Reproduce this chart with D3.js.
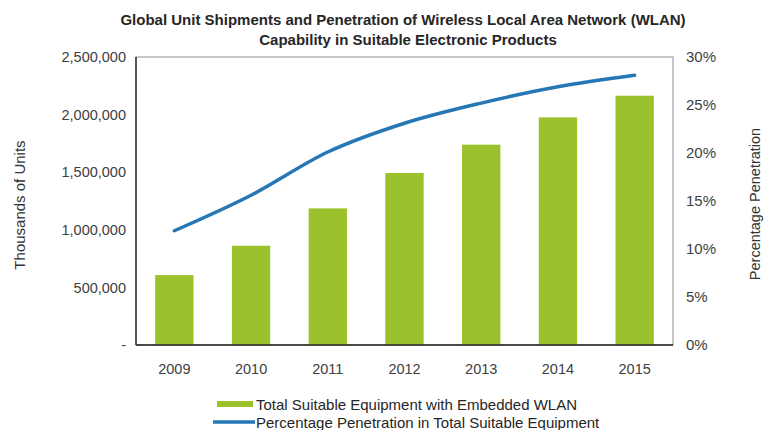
<!DOCTYPE html>
<html>
<head>
<meta charset="utf-8">
<script src="https://cdn.jsdelivr.net/npm/d3@7"></script>
<style>
  body { margin: 0; background: #fff; }
  svg text { font-family: "Liberation Sans", Arial, sans-serif; }
</style>
</head>
<body>
<svg class="d3SVG"></svg>
<script>
const years = ['2009', '2010', '2011', '2012', '2013', '2014', '2015']
const units = [607000, 862000, 1186000, 1493000, 1739000, 1976000, 2164000]
const penetration = [0.119, 0.156, 0.201, 0.231, 0.252, 0.269, 0.281]
const leftTicks = [0, 500000, 1000000, 1500000, 2000000, 2500000]
const rightTicks = [0, 0.05, 0.10, 0.15, 0.20, 0.25, 0.30]

const width = 765
const height = 430
const plotLeft = 136, plotRight = 673, plotTop = 57, plotBottom = 345

var svg = d3.select('.d3SVG')
  .attr('width', width)
  .attr('height', height)

var xScale = d3.scaleBand()
  .domain(years)
  .range([plotLeft, plotRight])
  .paddingInner(0.5)
  .paddingOuter(0.25)
var yScale = d3.scaleLinear()
  .domain([0, 2500000])
  .range([plotBottom, plotTop])
var pScale = d3.scaleLinear()
  .domain([0, 0.30])
  .range([plotBottom, plotTop])

// plot frame
svg.append('rect')
  .attr('x', plotLeft).attr('y', plotTop)
  .attr('width', plotRight - plotLeft).attr('height', plotBottom - plotTop)
  .style('fill', 'none')
  .style('stroke', '#8c8c8c')
  .style('stroke-width', 1)

// bars
svg.selectAll('.bar')
  .data(units)
  .enter()
  .append('rect')
  .classed('bar', true)
  .attr('x', (d, i) => xScale(years[i]))
  .attr('y', (d) => yScale(d))
  .attr('width', xScale.bandwidth())
  .attr('height', (d) => plotBottom - yScale(d))
  .style('fill', '#9bc22c')

// left and bottom axis lines darker
svg.append('line')
  .attr('x1', plotLeft).attr('x2', plotLeft).attr('y1', plotTop).attr('y2', plotBottom)
  .style('stroke', '#333').style('stroke-width', 1.5)
svg.append('line')
  .attr('x1', plotLeft).attr('x2', plotRight).attr('y1', plotBottom).attr('y2', plotBottom)
  .style('stroke', '#222').style('stroke-width', 1.5)

// line series
var valueline = d3.line()
  .x((d, i) => xScale(years[i]) + xScale.bandwidth() / 2)
  .y((d) => pScale(d))
  .curve(d3.curveMonotoneX)

svg.append('path')
  .datum(penetration)
  .attr('d', valueline)
  .style('fill', 'none')
  .style('stroke', '#2677b5')
  .style('stroke-width', 3.5)
  .style('stroke-linecap', 'round')

// axes
var yAxis = d3.axisLeft(yScale)
  .tickValues(leftTicks)
  .tickSize(0)
  .tickPadding(10)
  .tickFormat((d) => d === 0 ? '-' : d3.format(',')(d))
var pAxis = d3.axisRight(pScale)
  .tickValues(rightTicks)
  .tickSize(0)
  .tickPadding(13)
  .tickFormat(d3.format('.0%'))
var xAxis = d3.axisBottom(xScale)
  .tickSize(0)
  .tickPadding(19)

svg.append('g').attr('class', 'yAxis').call(yAxis)
  .attr('transform', 'translate(' + plotLeft + ',0)')
svg.append('g').attr('class', 'pAxis').call(pAxis)
  .attr('transform', 'translate(' + plotRight + ',0)')
svg.append('g').attr('class', 'xAxis').call(xAxis)
  .attr('transform', 'translate(0,' + plotBottom + ')')

svg.selectAll('.yAxis path, .pAxis path, .xAxis path').remove()
svg.selectAll('.yAxis text, .pAxis text, .xAxis text')
  .style('font-size', '14.5px')
  .style('fill', '#404040')
  .style('font-family', '"Liberation Sans", Arial, sans-serif')
svg.selectAll('.pAxis text').style('font-size', '15px')

// title
svg.append('text')
  .attr('x', 403).attr('y', 25)
  .style('text-anchor', 'middle')
  .style('font-size', '15px')
  .style('font-weight', 'bold')
  .style('fill', '#262626')
  .text('Global Unit Shipments and Penetration of Wireless Local Area Network (WLAN)')
svg.append('text')
  .attr('x', 408).attr('y', 45)
  .style('text-anchor', 'middle')
  .style('font-size', '15px')
  .style('font-weight', 'bold')
  .style('fill', '#262626')
  .text('Capability in Suitable Electronic Products')

// axis titles
svg.append('text')
  .attr('transform', 'translate(25,' + 205 + ') rotate(-90)')
  .style('text-anchor', 'middle')
  .style('font-size', '15px')
  .style('fill', '#333')
  .text('Thousands of Units')
svg.append('text')
  .attr('transform', 'translate(760,' + 204 + ') rotate(-90)')
  .style('text-anchor', 'middle')
  .style('font-size', '14.5px')
  .style('fill', '#333')
  .text('Percentage Penetration')

// legend
var legend = svg.append('g')
legend.append('rect')
  .attr('x', 217).attr('y', 401).attr('width', 36).attr('height', 6)
  .style('fill', '#9bc22c')
legend.append('text')
  .attr('x', 256).attr('y', 409.5)
  .style('font-size', '15px')
  .style('fill', '#262626')
  .text('Total Suitable Equipment with Embedded WLAN')
legend.append('line')
  .attr('x1', 213).attr('x2', 255).attr('y1', 422).attr('y2', 422)
  .style('stroke', '#2677b5').style('stroke-width', 3.5)
legend.append('text')
  .attr('x', 256).attr('y', 427.5)
  .style('font-size', '15px')
  .style('fill', '#262626')
  .text('Percentage Penetration in Total Suitable Equipment')
</script>
</body>
</html>
